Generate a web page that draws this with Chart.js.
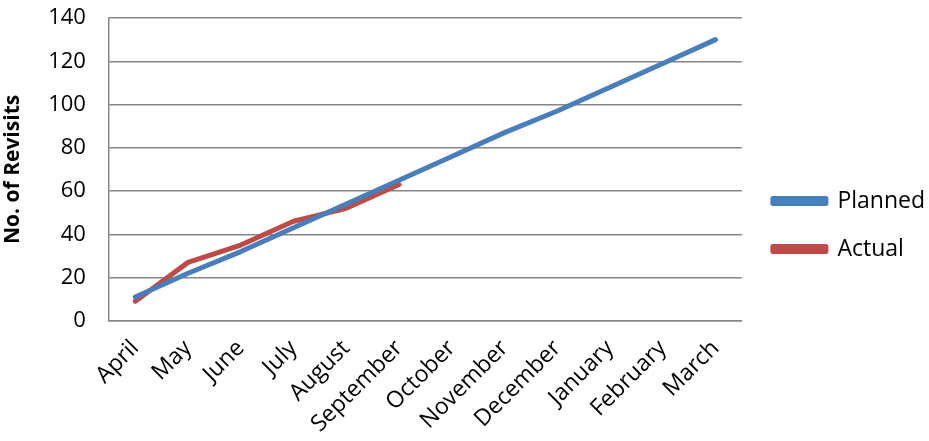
<!DOCTYPE html>
<html>
<head>
<meta charset="utf-8">
<script src="https://cdn.jsdelivr.net/npm/chart.js@4"></script>
<style>
  html, body { margin: 0; padding: 0; background: #fff; }
  #wrap { width: 929px; height: 441px; }
</style>
</head>
<body>
<div id="wrap"><canvas id="myChart"></canvas></div>
<script>
const months = ["April", "May", "June", "July", "August", "September", "October", "November", "December", "January", "February", "March"];
const planned = [11, 22, 32, 43, 54, 65, 76, 87, 97, 108, 119, 130];
const actual = [9, 27, 35, 46, 52, 63];
const yTicks = [0, 20, 40, 60, 80, 100, 120, 140];

const fontFam = "'Open Sans', 'Noto Sans', sans-serif";

// nudge the legend a bit, like the original
const legendShift = {
	id: "legendShift",
	afterLayout(chart) {
		const lg = chart.legend;
		lg.left += 6;
		lg.right += 6;
		lg.top -= 1;
		lg.bottom -= 1;
	},
};

new Chart("myChart", {
	type: "line",
	data: {
		labels: months,
		datasets: [
			{
				label: "Planned",
				data: planned,
				borderColor: "#4A7EBB",
				backgroundColor: "#4A7EBB",
				borderWidth: 5,
				pointRadius: 0,
				borderCapStyle: "round",
				borderJoinStyle: "round",
			},
			{
				label: "Actual",
				data: actual,
				borderColor: "#BE4B48",
				backgroundColor: "#BE4B48",
				borderWidth: 5,
				pointRadius: 0,
				borderCapStyle: "round",
				borderJoinStyle: "round",
			},
		],
	},
	plugins: [legendShift],
	options: {
		responsive: true,
		maintainAspectRatio: false,
		animation: false,
		layout: { padding: { top: 0, right: 0, left: -6, bottom: -11 } },
		plugins: {
			tooltip: { enabled: false },
			legend: {
				position: "right",
				labels: {
					boxWidth: 53,
					boxHeight: 5,
					padding: 25,
					color: "#000",
					font: { family: fontFam, size: 23 },
				},
			},
		},
		scales: {
			x: {
				offset: true,
				grid: { display: false, drawTicks: false },
				border: { color: "#868686", width: 1.5 },
				ticks: {
					color: "#000",
					font: { family: fontFam, size: 23 },
					minRotation: 45,
					maxRotation: 45,
					padding: 14,
				},
			},
			y: {
				min: 0,
				max: 140,
				afterBuildTicks: (axis) => {
					axis.ticks = yTicks.map((v) => ({ value: v }));
				},
				afterFit: (axis) => {
					// keep the tick gap from pushing the plot down
					axis.paddingTop = 18;
					axis.paddingBottom = 14;
				},
				grid: { color: "#868686", lineWidth: 1.5, drawTicks: false },
				border: { color: "#868686", width: 1.5 },
				ticks: {
					color: "#000",
					font: { family: fontFam, size: 22 },
					padding: 23,
				},
				title: {
					display: true,
					text: "No. of Revisits",
					color: "#000",
					font: { family: fontFam, size: 21, weight: "bold" },
					padding: { top: 6, bottom: 0 },
				},
			},
		},
	},
});
</script>
</body>
</html>
